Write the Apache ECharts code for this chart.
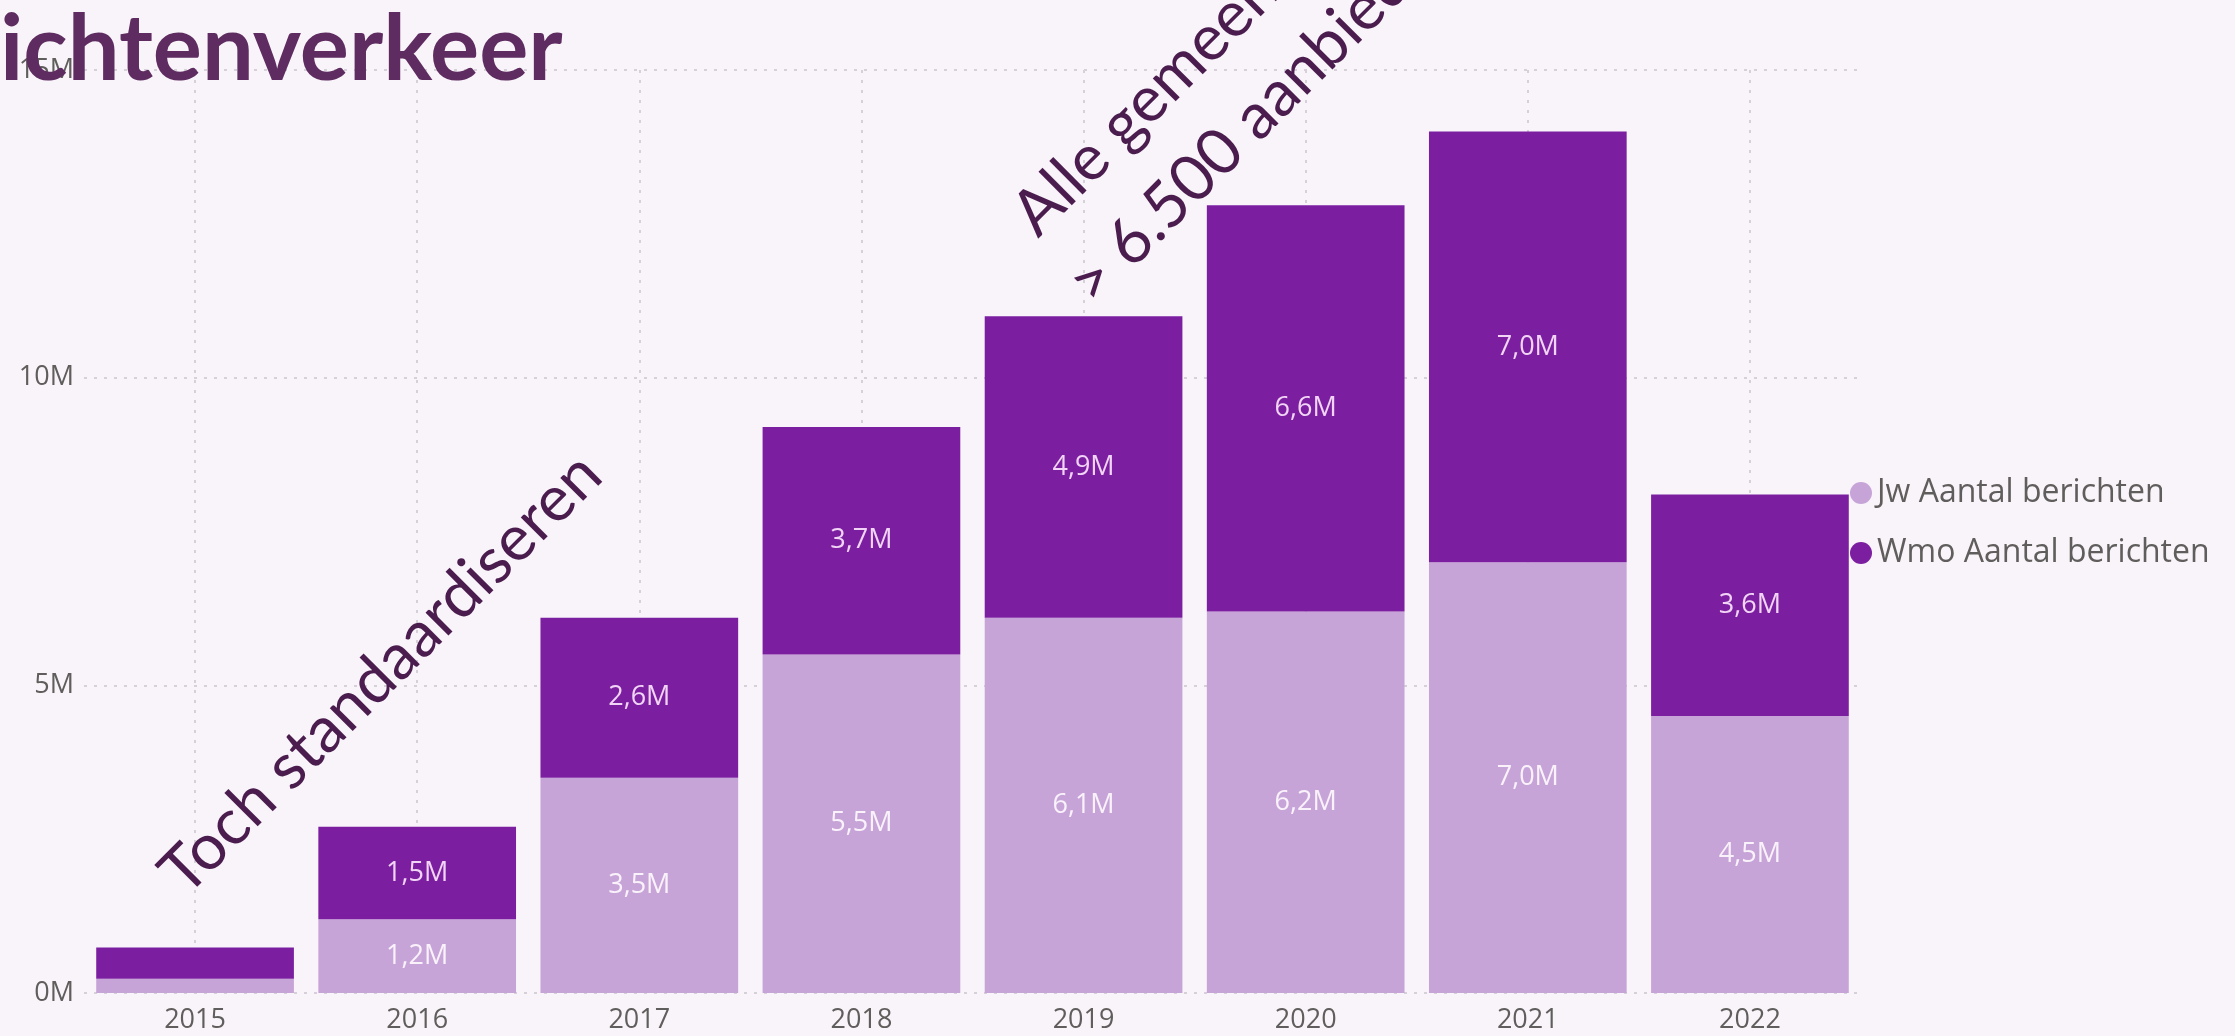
<!DOCTYPE html>
<html>
<head>
<meta charset="utf-8">
<script src="https://cdn.jsdelivr.net/npm/echarts@6/dist/echarts.min.js"></script>
<style>
html,body{margin:0;padding:0;background:#f9f4fa;}
#chart{width:2235px;height:1036px;}
</style>
</head>
<body>
<div id="chart"></div>
<script>
const categories = ['2015','2016','2017','2018','2019','2020','2021','2022'];
const jwValues  = [0.23, 1.2, 3.5, 5.5, 6.1, 6.2, 7.0, 4.5];
const wmoValues = [0.51, 1.5, 2.6, 3.7, 4.9, 6.6, 7.0, 3.6];
const seriesNames = ['Jw Aantal berichten', 'Wmo Aantal berichten'];
const noLabelCategories = ['2015'];
const titleText = 'ichtenverkeer';
const noteLeft = 'Toch standaardiseren';
const noteRight1 = 'Alle gemeenten';
const noteRight2 = '> 6.500 aanbieders';

const fmt = v => v.toFixed(1).replace('.', ',') + 'M';
function build(values, labelColor) {
  return values.map((v, i) => ({
    value: v,
    label: { show: noLabelCategories.indexOf(categories[i]) < 0, color: labelColor }
  }));
}

const chart = echarts.init(document.getElementById('chart'));
const gridLine = { color: '#d6d0d8', width: 2, type: [3, 7] };
const noteFont = 'normal 64px Lato';
chart.setOption({
  backgroundColor: '#f9f4fa',
  animation: false,
  textStyle: { fontFamily: '"Open Sans", sans-serif' },
  grid: { left: 84, right: 374, top: 70, bottom: 43 },
  legend: {
    data: seriesNames,
    orient: 'vertical',
    left: 1845, top: 472,
    icon: 'circle',
    itemWidth: 22, itemHeight: 22, itemGap: 28,
    textStyle: { fontSize: 32, color: '#605e5c', lineHeight: 32, fontFamily: '"Open Sans", sans-serif' }
  },
  xAxis: {
    type: 'category',
    data: categories,
    axisLine: { show: false },
    axisTick: { show: false },
    axisLabel: { fontSize: 27, color: '#605e5c', margin: 14 },
    splitLine: { show: true, alignWithLabel: true, lineStyle: gridLine }
  },
  yAxis: {
    type: 'value',
    min: 0, max: 15, interval: 5,
    axisLine: { show: false },
    axisTick: { show: false },
    axisLabel: { fontSize: 27, color: '#605e5c', margin: 10, formatter: v => v + 'M' },
    splitLine: { show: true, lineStyle: gridLine }
  },
  series: [
    {
      name: seriesNames[0], type: 'bar', stack: 'total',
      barCategoryGap: '11%',
      itemStyle: { color: '#c7a4d8' },
      label: { position: 'inside', fontSize: 27, formatter: p => fmt(p.value) },
      data: build(jwValues, '#faf2fb')
    },
    {
      name: seriesNames[1], type: 'bar', stack: 'total',
      barCategoryGap: '11%',
      itemStyle: { color: '#7b1fa0' },
      label: { position: 'inside', fontSize: 27, formatter: p => fmt(p.value) },
      data: build(wmoValues, '#f1d4f6')
    }
  ],
  graphic: [
    {
      type: 'text', z: 100, x: 0, y: 4,
      style: { text: titleText, font: 'bold 92px Lato', fill: '#5e2c60', textAlign: 'left', textVerticalAlign: 'top' }
    },
    {
      type: 'text', z: 100, x: 194, y: 906, rotation: Math.PI / 4,
      style: { text: noteLeft, font: noteFont, fill: '#4b1d4f', textAlign: 'left', textVerticalAlign: 'bottom' }
    },
    {
      type: 'text', z: 100, x: 1046, y: 247, rotation: Math.PI / 4,
      style: { text: noteRight1, font: noteFont, fill: '#4b1d4f', textAlign: 'left', textVerticalAlign: 'bottom' }
    },
    {
      type: 'text', z: 100, x: 1102, y: 316, rotation: Math.PI / 4,
      style: { text: noteRight2, font: noteFont, fill: '#4b1d4f', textAlign: 'left', textVerticalAlign: 'bottom' }
    }
  ]
});
</script>
</body>
</html>
